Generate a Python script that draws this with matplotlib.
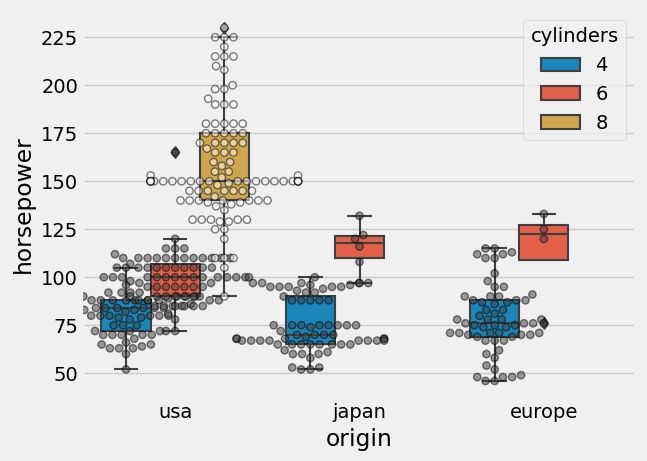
import warnings
warnings.filterwarnings("ignore")
import matplotlib
matplotlib.use("Agg")
import matplotlib.pyplot as plt
import seaborn as sns
import pandas as pd

# ---- data (horsepower per origin / cylinders) ----
origins = ["usa", "japan", "europe"]
cyl_levels = ["4", "6", "8"]

usa_4 = [90, 72, 86, 70, 80, 90, 86, 86, 80, 72, 85, 80, 75, 75, 83, 78, 92, 79, 52, 60,
         72, 80, 96, 88, 89, 63, 83, 66, 88, 68, 75, 105, 85, 88, 80, 80, 70, 70, 90, 90,
         70, 90, 88, 90, 105, 84, 84, 92, 84, 64, 63, 65, 65, 88, 88, 88, 85, 84, 90, 92,
         63, 70, 92, 84, 90, 84, 79, 82]
usa_6 = [95, 97, 85, 90, 100, 105, 100, 88, 100, 110, 100, 88, 105, 100, 100, 88, 95, 100,
         107, 95, 100, 100, 100, 110, 105, 95, 105, 72, 72, 110, 105, 110, 95, 110, 100, 97,
         90, 100, 105, 81, 90, 100, 78, 110, 95, 110, 105, 100, 98, 105, 95, 85, 100, 90,
         105, 85, 110, 120, 165, 115, 85, 90, 110, 115, 115, 90, 110, 110, 88, 85, 110, 85, 112]
usa_8 = [130, 165, 150, 150, 140, 198, 220, 215, 225, 190, 170, 160, 150, 225, 215, 200, 210,
         193, 165, 175, 153, 150, 180, 170, 175, 165, 175, 150, 153, 150, 208, 155, 160, 190,
         150, 130, 140, 150, 175, 150, 145, 137, 150, 198, 150, 158, 150, 215, 225, 175, 150,
         167, 170, 180, 145, 230, 150, 180, 140, 150, 150, 140, 150, 170, 145, 150, 148, 110,
         129, 140, 150, 120, 152, 150, 180, 145, 130, 150, 145, 110, 145, 130, 180, 170, 190,
         149, 110, 140, 139, 145, 139, 140, 130, 129, 138, 135, 155, 142, 125, 150, 125, 90, 105]
japan_4 = [95, 88, 88, 95, 65, 69, 95, 92, 97, 88, 88, 94, 67, 65, 52, 61, 97, 93, 75, 96,
           97, 53, 53, 70, 75, 68, 70, 75, 67, 52, 70, 60, 95, 97, 95, 97, 68, 65, 65, 60,
           65, 90, 75, 92, 75, 65, 65, 67, 67, 72, 58, 60, 67, 65, 62, 68, 75, 75, 100, 74,
           68, 68, 88, 75, 70, 67, 67, 67, 96]
japan_6 = [122, 108, 97, 132, 116, 120]
europe_4 = [46, 87, 90, 95, 113, 90, 70, 76, 60, 54, 112, 76, 87, 69, 46, 90, 49, 75, 91, 112,
            110, 83, 67, 78, 75, 75, 67, 71, 70, 95, 88, 98, 115, 86, 81, 83, 70, 71, 102, 88,
            58, 78, 78, 110, 48, 115, 71, 71, 71, 69, 76, 78, 48, 48, 67, 62, 88, 74, 80, 74, 52]
europe_6 = [120, 125, 133, 76]

groups = [("usa", "4", usa_4), ("usa", "6", usa_6), ("usa", "8", usa_8),
          ("japan", "4", japan_4), ("japan", "6", japan_6),
          ("europe", "4", europe_4), ("europe", "6", europe_6)]
rows = []
for org, cyl, vals in groups:
    for v in vals:
        rows.append({"origin": org, "cylinders": cyl, "horsepower": v})
df = pd.DataFrame(rows)

box_colors = {"4": "#008fd5", "6": "#fc4f30", "8": "#e5ae38"}
swarm_colors = {"4": "0.25", "6": "0.25", "8": "white"}

# ---- plot ----
plt.style.use("fivethirtyeight")
fig = plt.figure(figsize=(6.47, 4.61), dpi=100)
ax = fig.add_axes([83 / 647, 62.4 / 461, 553 / 647, 388.6 / 461])

sns.boxplot(data=df, x="origin", y="horsepower", hue="cylinders",
            order=origins, hue_order=cyl_levels, palette=box_colors,
            linewidth=1.5, ax=ax,
            flierprops=dict(marker="d", markerfacecolor="0.3",
                            markeredgecolor="0.3", markersize=6))
sns.swarmplot(data=df, x="origin", y="horsepower", hue="cylinders",
              order=origins, hue_order=cyl_levels, dodge=True,
              palette=swarm_colors, alpha=0.5, edgecolor="black",
              linewidth=1, size=5.3, legend=False, ax=ax)

ax.set_xlim(-0.5, 2.5)
ax.set_ylim(36.8, 239.2)
ax.set_xlabel("origin")
ax.set_ylabel("horsepower")
if ax.get_legend() is not None:
    sns.move_legend(ax, "upper right", title="cylinders")

fig.savefig("out.png", dpi=100, facecolor=fig.get_facecolor())
